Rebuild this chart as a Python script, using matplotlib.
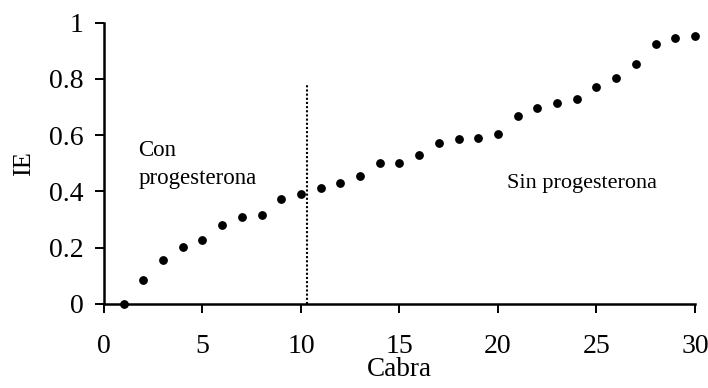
import numpy as np
import matplotlib.pyplot as plt

plt.rcParams['font.family'] = ['Liberation Serif', 'DejaVu Serif']

cabra = list(range(1, 31))
ie = [0.0, 0.084, 0.158, 0.201, 0.228, 0.281, 0.310, 0.318, 0.375, 0.391,
      0.413, 0.430, 0.456, 0.501, 0.501, 0.528, 0.572, 0.585, 0.591, 0.603,
      0.670, 0.695, 0.716, 0.729, 0.771, 0.802, 0.852, 0.924, 0.945, 0.952]
corte = 10.3
corte_alto = 0.78
x_ticks = [0, 5, 10, 15, 20, 25, 30]
y_ticks = [0, 0.2, 0.4, 0.6, 0.8, 1]
y_labels = ['0', '0.2', '0.4', '0.6', '0.8', '1']

fig = plt.figure(figsize=(7.08, 3.88), dpi=100)
ax = fig.add_axes([0.1469, 0.2165, 0.8347, 0.7250])

ax.plot(cabra, ie, 'o', color='black', ms=5.3, clip_on=False, zorder=3)
# linea divisoria punteada
ax.plot([corte, corte], [0, corte_alto], color='black', lw=1.5,
        linestyle=(0, (1, 1)))

ax.set_xlim(0, 30)
ax.set_ylim(0, 1)
ax.set_xticks(x_ticks)
ax.set_yticks(y_ticks)
ax.set_yticklabels(y_labels)
ax.spines['top'].set_visible(False)
ax.spines['right'].set_visible(False)
for s in ['left', 'bottom']:
    ax.spines[s].set_linewidth(1.8)
ax.tick_params(direction='out', length=6.5, width=1.4, labelsize=20)
ax.tick_params(axis='x', pad=15)
ax.tick_params(axis='y', pad=8)

ax.set_xlabel('Cabra', fontsize=19.5, labelpad=-1)
ax.set_ylabel('IE', fontsize=19, labelpad=10)

ax.text(1.73, 0.526, 'Con', fontsize=16.5, va='baseline')
ax.text(1.73, 0.4255, 'progesterona', fontsize=16.5, va='baseline')
ax.text(20.46, 0.411, 'Sin progesterona', fontsize=16, va='baseline')

fig.savefig('out.png', dpi=100)
